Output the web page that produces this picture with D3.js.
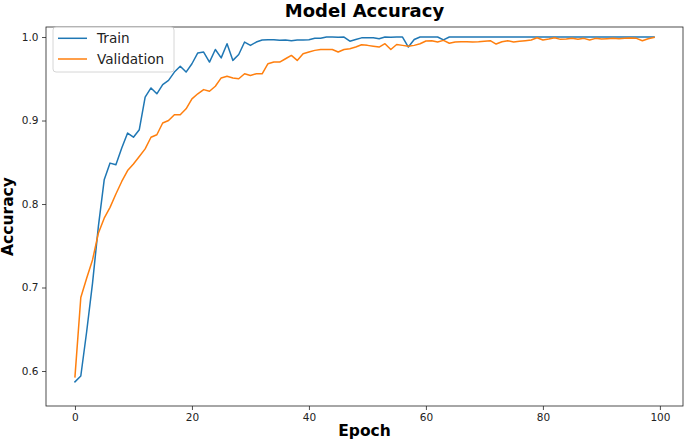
<!DOCTYPE html>
<html><head><meta charset="utf-8">
<script src="https://cdn.jsdelivr.net/npm/d3@7"></script>
<style>body{margin:0;background:#fff}svg{display:block}</style>
</head><body><svg id="c" width="685" height="440"></svg>
<script>
const epochs = d3.range(0, 100);
const trainAcc = [0.587,0.594,0.647,0.705,0.773,0.829,0.849,0.847,0.867,0.885,
0.880,0.889,0.928,0.939,0.932,0.943,0.948,0.958,0.965,0.958,
0.968,0.981,0.982,0.970,0.985,0.975,0.992,0.972,0.979,0.994,
0.990,0.994,0.9964,0.9968,0.9968,0.996,0.9964,0.9956,0.9964,0.9964,
0.9968,0.9984,0.9984,1.0,1.0,0.9996,1.0,0.995,0.997,0.999,
0.999,0.999,0.998,1.0,0.9996,1.0,1.0,0.988,0.997,1.0,
1.0,1.0,1.0,0.9965,1.0,1.0,1.0,1.0,1.0,1.0,
1.0,1.0,1.0,1.0,1.0,1.0,1.0,1.0,1.0,1.0,
1.0,1.0,1.0,1.0,1.0,1.0,1.0,1.0,1.0,1.0,
1.0,1.0,1.0,1.0,1.0,1.0,1.0,1.0,1.0,1.0];
const valAcc = [0.593,0.688,0.711,0.733,0.765,0.783,0.796,0.812,0.827,0.840,
0.848,0.857,0.866,0.880,0.883,0.897,0.900,0.907,0.907,0.914,
0.926,0.932,0.937,0.935,0.941,0.951,0.953,0.951,0.950,0.956,
0.954,0.956,0.956,0.968,0.970,0.970,0.974,0.978,0.972,0.980,
0.982,0.984,0.985,0.985,0.985,0.982,0.985,0.986,0.988,0.9908,
0.990,0.989,0.988,0.992,0.985,0.991,0.990,0.989,0.990,0.992,
0.9952,0.9956,0.994,0.996,0.9925,0.994,0.9944,0.9944,0.994,0.9944,
0.995,0.9956,0.9916,0.9944,0.9956,0.994,0.9948,0.9956,0.9964,0.9992,
0.9964,0.9976,0.9992,0.9972,0.9976,0.9984,0.9972,0.9984,0.9964,0.9984,
0.9976,0.998,0.9984,0.998,0.9984,0.9988,0.9984,0.9956,0.998,0.9996];
const xTicks = [0, 20, 40, 60, 80, 100];
const yTicks = [0.6, 0.7, 0.8, 0.9, 1.0];
const seriesNames = ["Train", "Validation"];
const colors = ["#1f77b4", "#ff7f0e"];

const L = 46, R = 683, T = 27, B = 406;
const svg = d3.select("#c");
const x = d3.scaleLinear().domain([-4.95, 103.95]).range([L, R]);
const y = d3.scaleLinear().domain([0.5581, 1.0120]).range([B, T]);

const font = "'DejaVu Sans', sans-serif";

// axes
const xa = svg.append("g").attr("transform", `translate(0,${B})`)
  .call(d3.axisBottom(x).tickValues(xTicks).tickFormat(d3.format("d")).tickSize(4).tickPadding(3.5));
const ya = svg.append("g").attr("transform", `translate(${L},0)`)
  .call(d3.axisLeft(y).tickValues(yTicks).tickFormat(d3.format(".1f")).tickSize(4).tickPadding(3.5));
[xa, ya].forEach(g => {
  g.select(".domain").remove();
  g.selectAll("line").attr("stroke", "#222").attr("stroke-width", 0.8);
  g.selectAll("text").attr("font-family", font).attr("font-size", 10.5).attr("fill", "#222");
});

// lines
const line = d3.line().x((d, i) => x(epochs[i])).y(d => y(d));
[trainAcc, valAcc].forEach((s, k) => {
  svg.append("path").datum(s).attr("d", line).attr("fill", "none")
    .attr("stroke", colors[k]).attr("stroke-width", 1.5).attr("stroke-linejoin", "round").attr("stroke-linecap", "square");
});

// frame
svg.append("rect").attr("x", L).attr("y", T).attr("width", R - L).attr("height", B - T)
  .attr("fill", "none").attr("stroke", "#222").attr("stroke-width", 0.8);

// title and labels
svg.append("text").attr("x", (L + R) / 2).attr("y", 16.5).attr("text-anchor", "middle")
  .attr("font-family", font).attr("font-weight", "bold").attr("font-size", 18).text("Model Accuracy");
svg.append("text").attr("x", (L + R) / 2).attr("y", 436).attr("text-anchor", "middle")
  .attr("font-family", font).attr("font-weight", "bold").attr("font-size", 15.5).text("Epoch");
svg.append("text").attr("transform", `translate(13,${(T + B) / 2}) rotate(-90)`).attr("text-anchor", "middle")
  .attr("font-family", font).attr("font-weight", "bold").attr("font-size", 15.5).text("Accuracy");

// legend
const lg = svg.append("g").attr("transform", `translate(53,27)`);
lg.append("rect").attr("width", 121).attr("height", 45).attr("rx", 3)
  .attr("fill", "#fff").attr("fill-opacity", 0.8).attr("stroke", "#ccc").attr("stroke-width", 0.8);
seriesNames.forEach((n, k) => {
  const yy = 11.3 + k * 20.7;
  lg.append("line").attr("x1", 5).attr("x2", 34).attr("y1", yy).attr("y2", yy)
    .attr("stroke", colors[k]).attr("stroke-width", 1.5);
  lg.append("text").attr("x", 44).attr("y", yy + 4.8).attr("font-family", font).attr("font-size", 13.6).attr("fill", "#222").text(n);
});
</script></body></html>
